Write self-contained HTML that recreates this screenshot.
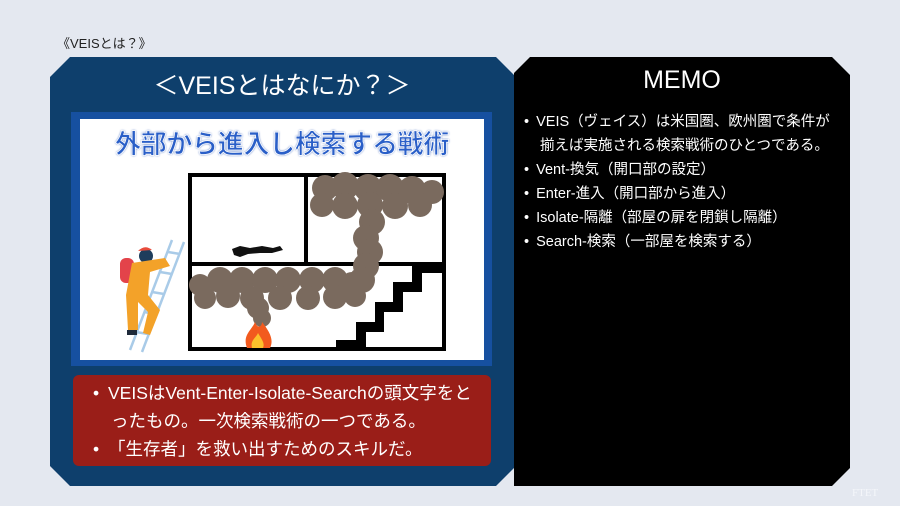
<!DOCTYPE html>
<html><head><meta charset="utf-8">
<style>
html,body{margin:0;padding:0}
body{width:900px;height:506px;background:#e4e8f0;position:relative;overflow:hidden;font-family:"Liberation Sans","Noto Sans CJK JP",sans-serif}
.t{position:absolute;white-space:nowrap}
</style></head><body>
<svg width="900" height="506" style="position:absolute;left:0;top:0">
  <polygon points="70,57 496,57 514,75 514,468 496,486 70,486 50,466 50,77" fill="#0e3f6c"/>
  <polygon points="530,57 832,57 850,75 850,468 832,486 514,486 514,73" fill="#000"/>
  <rect x="71" y="112" width="421" height="254" fill="#1650a0"/>
  <rect x="80" y="119" width="404" height="241" fill="#fff"/>
  <rect x="73" y="375" width="418" height="91" rx="6" fill="#9a1e18"/>
  <g stroke="#000" stroke-width="4" fill="none">
    <rect x="190" y="175" width="254" height="174"/>
    <line x1="190" y1="264" x2="444" y2="264"/>
    <line x1="306" y1="175" x2="306" y2="264"/>
  </g>
  <polygon points="336,349 336,340 356,340 356,322 375,322 375,302 393,302 393,282 412,282 412,262 444,262 444,273 422,273 422,292 403,292 403,312 384,312 384,332 366,332 366,349" fill="#000"/>
  <g fill="#7a6a5e">
    <circle cx="325" cy="188" r="13"/><circle cx="345" cy="186" r="14"/><circle cx="368" cy="188" r="14"/><circle cx="390" cy="188" r="14"/><circle cx="412" cy="190" r="14"/><circle cx="432" cy="192" r="12"/>
    <circle cx="322" cy="205" r="12"/><circle cx="345" cy="206" r="13"/><circle cx="370" cy="205" r="13"/><circle cx="395" cy="206" r="13"/><circle cx="420" cy="205" r="12"/>
    <circle cx="372" cy="222" r="13"/><circle cx="366" cy="238" r="13"/><circle cx="370" cy="252" r="13"/><circle cx="366" cy="266" r="13"/><circle cx="362" cy="280" r="13"/>
    <circle cx="200" cy="285" r="11"/><circle cx="220" cy="280" r="13"/><circle cx="242" cy="280" r="13"/><circle cx="265" cy="280" r="13"/><circle cx="288" cy="280" r="13"/><circle cx="312" cy="280" r="13"/><circle cx="335" cy="280" r="13"/><circle cx="352" cy="284" r="12"/>
    <circle cx="205" cy="298" r="11"/><circle cx="228" cy="296" r="12"/><circle cx="252" cy="298" r="12"/><circle cx="280" cy="298" r="12"/><circle cx="308" cy="298" r="12"/><circle cx="335" cy="297" r="12"/><circle cx="355" cy="296" r="11"/>
    <circle cx="258" cy="308" r="11"/><circle cx="262" cy="318" r="9"/>
  </g>
  <path d="M247,348 C242,335 252,330 255,322 C258,330 262,326 262,322 C270,332 274,340 270,348 Z" fill="#f25a1e"/>
  <path d="M252,348 C250,340 256,338 258,333 C262,340 265,343 263,348 Z" fill="#fcc12c"/>
  <path d="M232,249 L240,246 L250,248 L262,246 L273,248 L280,246 L283,250 L272,253 L260,253 L248,254 L240,257 L234,255 Z" fill="#111"/>
  <g stroke="#a9cbe8" stroke-width="2.5">
    <line x1="172" y1="240" x2="130" y2="350"/><line x1="184" y1="242" x2="142" y2="352"/>
    <line x1="168" y1="252" x2="180" y2="254"/><line x1="160" y1="272" x2="172" y2="274"/><line x1="152" y1="292" x2="164" y2="294"/><line x1="144" y1="312" x2="156" y2="314"/><line x1="136" y1="332" x2="148" y2="334"/>
  </g>
  <rect x="120" y="258" width="14" height="25" rx="6" fill="#e3434a"/>
  <circle cx="146" cy="256" r="7" fill="#1e3d5c"/>
  <path d="M138,251 Q145,244 152,250 Z" fill="#e84b3a"/>
  <path d="M132,263 L165,258 L170,266 L150,272 L148,295 L160,310 L150,335 L143,333 L148,312 L138,302 L138,330 L128,330 L126,295 Z" fill="#f3a229"/>
  <rect x="127" y="330" width="10" height="5" fill="#1e2a3a"/>
</svg>
<div class="t" style="left:57px;top:33px;font-size:13px;color:#222">《VEISとは？》</div>
<div class="t" style="left:150px;top:66px;width:264px;text-align:center;font-size:25px;color:#fff">＜VEISとはなにか？＞</div>
<div class="t" style="left:80px;top:124px;width:404px;text-align:center;font-size:26px;font-weight:bold;font-family:'Noto Sans CJK JP',sans-serif;color:#2a5fc8;-webkit-text-stroke:0.8px #fff;text-shadow:0 0 2px #1a4ab0;letter-spacing:-0.3px">外部から進入し検索する戦術</div>
<div class="t" style="left:582px;top:66px;width:200px;text-align:center;font-size:25px;color:#fff">MEMO</div>
<div class="t" style="left:524px;top:110px;font-size:14.5px;line-height:24px;color:#fff">
• <span style="padding-left:3px">VEIS（ヴェイス）は米国圏、欧州圏で条件が</span><br>
<span style="padding-left:16px">揃えば実施される検索戦術のひとつである。</span><br>
• <span style="padding-left:3px">Vent-換気（開口部の設定）</span><br>
• <span style="padding-left:3px">Enter-進入（開口部から進入）</span><br>
• <span style="padding-left:3px">Isolate-隔離（部屋の扉を閉鎖し隔離）</span><br>
• <span style="padding-left:3px">Search-検索（一部屋を検索する）</span>
</div>
<div class="t" style="left:93px;top:379px;font-size:17.5px;line-height:28px;color:#fff">
• <span style="padding-left:4px">VEISはVent-Enter-Isolate-Searchの頭文字をと</span><br>
<span style="padding-left:18px">ったもの。一次検索戦術の一つである。</span><br>
• <span style="padding-left:4px">「生存者」を救い出すためのスキルだ。</span>
</div>
<div class="t" style="left:852px;top:487px;font-size:11px;color:#f4f6fa;font-family:'Liberation Serif',serif">FTET</div>
</body></html>
